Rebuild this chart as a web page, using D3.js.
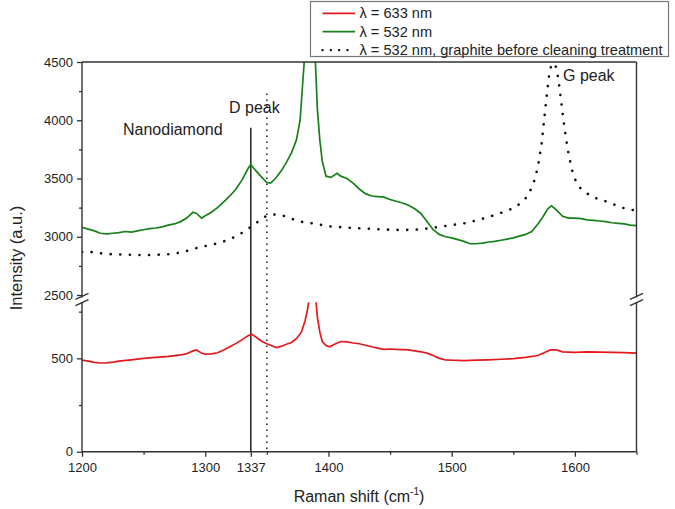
<!DOCTYPE html>
<html>
<head>
<meta charset="utf-8">
<script src="https://cdn.jsdelivr.net/npm/d3@7"></script>
<style>
  body { margin: 0; background: #fff; }
  text { font-family: Arial, "Liberation Sans", sans-serif; fill: #222; }
</style>
</head>
<body>
<svg id="chart" width="675" height="509"></svg>
<script>
// --- data ---
// red: lambda = 633 nm (plotted on the lower, broken-off segment of the y axis)
const shift633 = [1200,1205,1210,1215,1220,1225,1230,1240,1250,1260,1270,1280,1285,1290,1293,1297,1300,1305,1310,1315,1320,1325,1330,1335,1338,1342,1346,1350,1355,1358,1362,1366,1370,1374,1378,1381,1383,1385,1387,1389,1391,1393,1395,1398,1401,1405,1410,1415,1420,1425,1430,1435,1440,1445,1450,1455,1460,1465,1470,1475,1480,1485,1490,1495,1500,1510,1520,1530,1540,1550,1560,1570,1575,1580,1585,1590,1600,1610,1620,1630,1640,1650];
const int633   = [490,485,478,475,476,480,485,492,500,505,510,518,525,540,545,528,522,524,530,545,562,580,600,622,628,610,590,578,565,558,565,575,585,605,640,700,760,850,950,880,720,640,590,568,562,575,590,588,582,578,570,562,555,548,550,548,547,545,540,535,528,515,500,492,490,488,490,492,495,498,505,515,530,545,545,535,532,535,533,532,530,528];

// green: lambda = 532 nm
const shift532 = [1200,1205,1210,1215,1220,1225,1230,1235,1240,1245,1250,1255,1260,1265,1270,1275,1280,1285,1290,1293,1297,1300,1305,1310,1315,1320,1325,1330,1335,1337,1340,1345,1350,1353,1357,1362,1366,1370,1374,1377,1379,1381,1386,1389,1391,1393,1395,1398,1402,1407,1410,1415,1420,1425,1430,1435,1440,1445,1450,1455,1460,1465,1470,1475,1480,1485,1490,1495,1500,1505,1510,1515,1520,1525,1530,1535,1540,1545,1550,1555,1560,1565,1570,1574,1578,1581,1585,1590,1595,1600,1605,1610,1615,1620,1625,1630,1635,1640,1645,1650];
const int532   = [3080,3065,3050,3030,3025,3030,3035,3045,3040,3050,3060,3070,3075,3085,3100,3110,3130,3160,3210,3200,3160,3180,3210,3250,3300,3350,3410,3490,3590,3620,3580,3520,3465,3460,3500,3570,3640,3720,3830,4000,4300,4600,5000,4600,4100,3830,3650,3520,3510,3545,3520,3500,3460,3410,3370,3350,3345,3340,3320,3305,3290,3270,3240,3200,3130,3060,3020,3000,2990,2975,2960,2940,2940,2945,2955,2960,2970,2980,2990,3005,3020,3045,3110,3170,3240,3265,3230,3175,3160,3160,3155,3145,3140,3135,3130,3120,3115,3110,3100,3095];

// dotted: lambda = 532 nm, graphite before cleaning treatment
const shiftGraphite = [1200,1205,1210,1215,1220,1225,1230,1240,1250,1260,1270,1275,1280,1285,1290,1295,1300,1305,1310,1315,1320,1325,1330,1335,1340,1345,1350,1355,1360,1365,1370,1375,1380,1390,1400,1410,1420,1430,1440,1450,1460,1470,1480,1490,1500,1510,1520,1530,1540,1550,1555,1560,1564,1567,1570,1573,1575,1577,1579,1581,1583,1585,1587,1589,1591,1593,1595,1598,1601,1605,1610,1615,1620,1625,1630,1635,1640,1645,1650];
const intGraphite   = [2870,2872,2865,2858,2852,2850,2848,2845,2843,2845,2850,2855,2866,2878,2893,2910,2920,2930,2945,2960,2980,3005,3035,3070,3105,3150,3180,3190,3190,3175,3155,3135,3125,3110,3090,3082,3075,3070,3065,3060,3058,3060,3070,3085,3100,3115,3140,3170,3205,3245,3280,3330,3400,3480,3600,3800,4000,4200,4380,4480,4490,4450,4320,4150,3980,3830,3700,3560,3470,3410,3370,3340,3320,3305,3285,3260,3245,3232,3225];

const xMajor = [1200, 1300, 1337, 1400, 1500, 1600];
const xMinor = [1250, 1350, 1450, 1550, 1650];
const yTopMajor = [2500, 3000, 3500, 4000, 4500];
const yTopMinor = [2750, 3250, 3750, 4250];
const yBotMajor = [0, 500];
const yBotMinor = [250, 750];

const legendLabels = ["λ = 633 nm", "λ = 532 nm", "λ = 532 nm, graphite before cleaning treatment"];

// --- layout ---
const svg = d3.select("#chart");
const pL = 82, pR = 636.5, pT = 62, pB = 451.7;
const breakY = 299.5;

const x = d3.scaleLinear().domain([1200, 1650]).range([pL, pR]);
const yTop = d3.scaleLinear().domain([2500, 4500]).range([295, pT]);
const yBot = d3.scaleLinear().domain([0, 800]).range([pB, 302.3]);

const defs = svg.append("defs");
defs.append("clipPath").attr("id", "clipTop")
  .append("rect").attr("x", pL).attr("y", pT).attr("width", pR - pL).attr("height", breakY - pT);
defs.append("clipPath").attr("id", "clipBot")
  .append("rect").attr("x", pL).attr("y", 302.3).attr("width", pR - pL).attr("height", pB - 302.3);

const red = "#e3191c", green = "#17801a";

// vertical marker lines
svg.append("line")
  .attr("x1", x(1337)).attr("x2", x(1337))
  .attr("y1", yTop(3935)).attr("y2", pB)
  .attr("stroke", "#222").attr("stroke-width", 1.5);
svg.append("line")
  .attr("x1", x(1350)).attr("x2", x(1350))
  .attr("y1", yTop(4230)).attr("y2", pB)
  .attr("stroke", "#222").attr("stroke-width", 1.5)
  .attr("stroke-dasharray", "1.5,4.5");

// series
const lineTop = d3.line().x(d => x(d[0])).y(d => yTop(d[1]));
const lineBot = d3.line().x(d => x(d[0])).y(d => yBot(d[1]));

svg.append("path")
  .datum(d3.zip(shiftGraphite, intGraphite))
  .attr("clip-path", "url(#clipTop)")
  .attr("d", lineTop)
  .attr("fill", "none").attr("stroke", "#111").attr("stroke-width", 2.6)
  .attr("stroke-linecap", "round").attr("stroke-dasharray", "0.1,9.5");

svg.append("path")
  .datum(d3.zip(shift532, int532))
  .attr("clip-path", "url(#clipTop)")
  .attr("d", lineTop)
  .attr("fill", "none").attr("stroke", green).attr("stroke-width", 1.7);

svg.append("path")
  .datum(d3.zip(shift633, int633))
  .attr("clip-path", "url(#clipBot)")
  .attr("d", lineBot)
  .attr("fill", "none").attr("stroke", red).attr("stroke-width", 1.7);

// axes
const axisColor = "#333";
function styleAxis(g) {
  g.select(".domain").remove();
  g.selectAll("line").attr("stroke", axisColor).attr("stroke-width", 1.3);
  g.selectAll("text").attr("font-size", "13px").attr("fill", "#222");
}

svg.append("g").attr("transform", `translate(0,${pB})`)
  .call(d3.axisBottom(x).tickValues(xMajor).tickSize(5).tickPadding(6).tickFormat(d3.format("d")))
  .call(styleAxis);
svg.append("g").attr("transform", `translate(0,${pB})`)
  .call(d3.axisBottom(x).tickValues(xMinor).tickSize(3).tickFormat(""))
  .call(styleAxis);

svg.append("g").attr("transform", `translate(${pL},0)`)
  .call(d3.axisLeft(yTop).tickValues(yTopMajor).tickSize(5).tickPadding(4).tickFormat(d3.format("d")))
  .call(styleAxis);
svg.append("g").attr("transform", `translate(${pL},0)`)
  .call(d3.axisLeft(yTop).tickValues(yTopMinor).tickSize(3).tickFormat(""))
  .call(styleAxis);
svg.append("g").attr("transform", `translate(${pL},0)`)
  .call(d3.axisLeft(yBot).tickValues(yBotMajor).tickSize(5).tickPadding(4).tickFormat(d3.format("d")))
  .call(styleAxis);
svg.append("g").attr("transform", `translate(${pL},0)`)
  .call(d3.axisLeft(yBot).tickValues(yBotMinor).tickSize(3).tickFormat(""))
  .call(styleAxis);

// frame with broken sides
const frame = svg.append("g").attr("stroke", axisColor).attr("stroke-width", 1.4).attr("fill", "none");
frame.append("line").attr("x1", pL).attr("x2", pR).attr("y1", pT).attr("y2", pT);
frame.append("line").attr("x1", pL).attr("x2", pR).attr("y1", pB).attr("y2", pB);
[pL, pR].forEach(ax => {
  frame.append("line").attr("x1", ax).attr("x2", ax).attr("y1", pT).attr("y2", breakY - 2);
  frame.append("line").attr("x1", ax).attr("x2", ax).attr("y1", breakY + 3).attr("y2", pB);
  [-3.2, 3.2].forEach(dy => {
    frame.append("line")
      .attr("x1", ax - 6.5).attr("y1", breakY + dy + 3)
      .attr("x2", ax + 6.5).attr("y2", breakY + dy - 3);
  });
});

// annotations
svg.append("text").attr("x", 123).attr("y", 134.5).attr("font-size", "16px").text("Nanodiamond");
svg.append("text").attr("x", 229).attr("y", 113).attr("font-size", "16px").text("D peak");
svg.append("text").attr("x", 563).attr("y", 80.5).attr("font-size", "16px").text("G peak");

// axis titles
svg.append("text")
  .attr("transform", "translate(22,258) rotate(-90)")
  .attr("text-anchor", "middle").attr("font-size", "16.5px")
  .text("Intensity (a.u.)");
const xt = svg.append("text")
  .attr("x", 359).attr("y", 501.5)
  .attr("text-anchor", "middle").attr("font-size", "16px");
xt.append("tspan").text("Raman shift (cm");
xt.append("tspan").attr("font-size", "10px").attr("dy", -7).text("-1");
xt.append("tspan").attr("dy", 7).text(")");

// legend
const legend = svg.append("g");
legend.append("rect")
  .attr("x", 310.5).attr("y", 1.5).attr("width", 358).attr("height", 55)
  .attr("fill", "#fff").attr("stroke", "#777").attr("stroke-width", 1.2);
const legendStyles = [
  { color: red, dash: null, width: 1.8 },
  { color: green, dash: null, width: 1.8 },
  { color: "#111", dash: "0.1,8.2", width: 2.4 }
];
legendLabels.forEach((label, i) => {
  const cy = 13.3 + i * 18.4;
  const st = legendStyles[i];
  legend.append("line")
    .attr("x1", 322.5).attr("x2", 355).attr("y1", cy).attr("y2", cy)
    .attr("stroke", st.color).attr("stroke-width", st.width)
    .attr("stroke-linecap", st.dash ? "round" : "butt")
    .attr("stroke-dasharray", st.dash);
  legend.append("text")
    .attr("x", 359.5).attr("y", cy + 5)
    .attr("font-size", "14.6px")
    .text(label);
});
</script>
</body>
</html>
